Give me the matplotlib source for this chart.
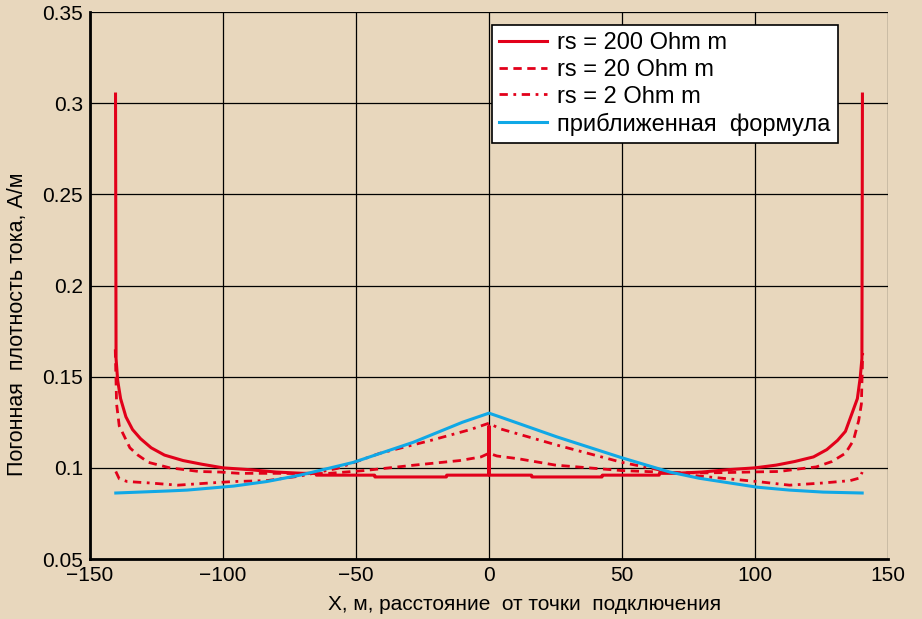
import matplotlib
matplotlib.use("Agg")
from matplotlib import pyplot as plt

# rs = 200 Ohm m
x200 = [-140.4, -140.2, -139.6, -138.5, -136.5, -134, -131, -127, -122, -115, -108, -100, -90, -80, -70,
        -65, -64.9, -43, -42.9, -16, -15.9, -0.15, 0, 0.15, 16, 16.1, 42.5, 42.6, 64, 64.1,
        70, 80, 90, 100, 108, 115, 122, 127, 131, 134, 136.5, 138.5, 139.6, 140.2, 140.4]
y200 = [0.305, 0.16, 0.148, 0.138, 0.128, 0.121, 0.116, 0.111, 0.107, 0.104, 0.102, 0.1, 0.099, 0.0977, 0.097,
        0.097, 0.096, 0.096, 0.095, 0.095, 0.096, 0.096, 0.123, 0.096, 0.096, 0.095, 0.095, 0.096, 0.096, 0.097,
        0.097, 0.0977, 0.099, 0.1, 0.1015, 0.1035, 0.106, 0.11, 0.115, 0.12, 0.13, 0.138, 0.15, 0.16, 0.305]

# rs = 20 Ohm m
x20 = [-140.5, -140.0, -139, -137, -135, -132, -128, -124, -120, -116, -109, -101, -94, -80, -68, -60,
       -47, -28, -11, -3, 0, 3, 11, 25, 50, 68, 80, 92, 101, 109, 117, 123, 129, 134, 137, 139, 140, 140.5]
y20 = [0.165, 0.135, 0.123, 0.117, 0.111, 0.107, 0.103, 0.1015, 0.1, 0.0993, 0.098, 0.0977, 0.097, 0.097, 0.0968, 0.097,
       0.0985, 0.1015, 0.104, 0.106, 0.108, 0.1065, 0.105, 0.1015, 0.0985, 0.0975, 0.0972, 0.0975, 0.0978, 0.098,
       0.0995, 0.1005, 0.1035, 0.108, 0.115, 0.126, 0.135, 0.163]

# rs = 2 Ohm m
x2 = [-140.3, -139, -136, -127.5, -117, -105, -96, -83.5, -71, -57, -41, -22, -7, 0,
      4, 25.5, 50, 68, 79, 100.8, 113, 125.6, 135.8, 139.5, 140.3]
y2 = [0.098, 0.094, 0.0925, 0.0917, 0.0905, 0.0917, 0.0925, 0.093, 0.0955, 0.0997, 0.108, 0.115, 0.121, 0.1245,
      0.1215, 0.1125, 0.103, 0.0977, 0.0955, 0.0925, 0.0905, 0.0917, 0.093, 0.0945, 0.0977]

# approximate formula
xa = [-140.3, -121, -113.5, -96, -83.5, -71, -51, -28.5, -10, 0,
      4, 25.5, 50, 68, 79, 100.8, 113, 125.6, 140.3]
ya = [0.0862, 0.0873, 0.0878, 0.09, 0.0925, 0.096, 0.103, 0.114, 0.125, 0.130,
      0.128, 0.117, 0.1055, 0.0977, 0.0943, 0.0894, 0.0878, 0.0867, 0.0862]

labels = ['rs = 200 Ohm m', 'rs = 20 Ohm m', 'rs = 2 Ohm m', 'приближенная  формула']
xticks = [-150, -100, -50, 0, 50, 100, 150]
xtick_labels = ['\u2212150', '\u2212100', '\u221250', '0', '50', '100', '150']
yticks = [0.05, 0.1, 0.15, 0.2, 0.25, 0.3, 0.35]
ytick_labels = ['0.05', '0.1', '0.15', '0.2', '0.25', '0.3', '0.35']

bg = '#e8d7bd'
red = '#e2001a'
blue = '#10a8e6'

plt.rcParams['font.family'] = ['Liberation Sans', 'DejaVu Sans']

fig = plt.figure(figsize=(9.22, 6.19), dpi=100, facecolor=bg)
ax = fig.add_axes([0.0976, 0.0969, 0.8655, 0.8837])
ax.set_facecolor(bg)

ax.plot(x200, y200, color=red, lw=2.2, label=labels[0])
ax.plot(x20, y20, color=red, lw=2.0, linestyle=(0, (3, 2)), label=labels[1])
ax.plot(x2, y2, color=red, lw=2.0, linestyle=(0, (3, 2, 1, 2)), label=labels[2])
ax.plot(xa, ya, color=blue, lw=2.2, label=labels[3])

ax.set_xlim(-150, 150)
ax.set_ylim(0.05, 0.35)
ax.set_xticks(xticks)
ax.set_xticklabels(xtick_labels)
ax.set_yticks(yticks)
ax.set_yticklabels(ytick_labels)
ax.tick_params(length=0, labelsize=15, pad=5)
ax.grid(True, color='black', lw=0.9)
ax.set_axisbelow(True)
for s in ['top', 'right']:
    ax.spines[s].set_visible(False)
for s in ['left', 'bottom']:
    ax.spines[s].set_linewidth(2)

ax.set_xlabel('X, м, расстояние  от точки  подключения', fontsize=15, labelpad=4)
ax.xaxis.set_label_coords(0.544, -0.065)
ax.set_ylabel('Погонная  плотность тока, А/м', fontsize=15.5)
ax.yaxis.set_label_coords(-0.078, 0.43)

leg = ax.legend(loc='upper right', bbox_to_anchor=(0.937, 0.976), borderaxespad=0,
                prop={'size': 17}, fancybox=False, framealpha=1, edgecolor='black',
                handlelength=2.0, labelspacing=0.2, borderpad=0.3, handletextpad=0.45)
leg.get_frame().set_linewidth(1.2)

fig.savefig('out.png', dpi=100, facecolor=bg)
